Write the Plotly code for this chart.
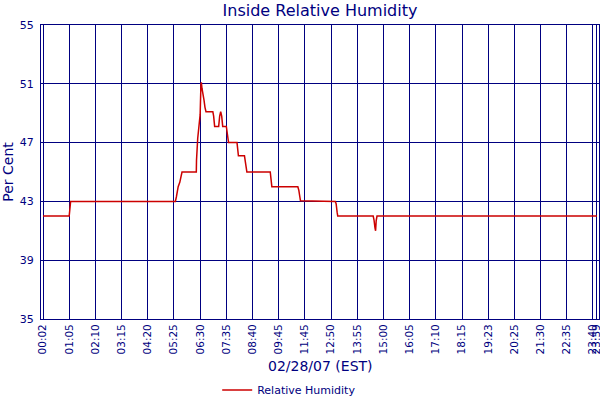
import plotly.graph_objects as go

# readings (sample index along the day) where the humidity changes
reading_idx = [0, 13, 13.7,
               65.7, 66.2, 66.6, 67.1, 67.9, 68.7, 69.0,
               76.1, 76.2, 76.8, 77.3, 78.0, 78.4, 78.6, 78.9, 79.4, 79.9, 80.4, 80.9,
               84.3, 84.7, 85.2, 87.2, 87.7, 88.2, 88.7, 89.2,
               91.0, 91.3, 91.8, 92.1,
               96.3, 96.6, 97.0,
               100.0, 100.4, 100.9, 101.2,
               112.8, 113.1, 113.6,
               126.5, 127.0, 127.5, 127.8,
               145.1, 145.5, 146.0, 146.3,
               163.9, 164.3, 164.8, 165.1, 165.4, 165.8,
               275]
humidity = [42, 42, 43,
            43, 43.3, 43.75, 44.0, 44.3, 44.8, 45.0,
            45, 45.8, 47.3, 48.0, 48.9, 51.0, 51.1, 50.7, 50.4, 49.9, 49.4, 49.1,
            49.1, 48.8, 48.1, 48.1, 48.8, 49.1, 48.8, 48.1,
            48.1, 47.7, 47.2, 47.0,
            47.0, 46.7, 46.1,
            46.1, 45.8, 45.35, 45.0,
            45.0, 44.4, 44.0,
            44.0, 43.75, 43.3, 43.05,
            43.0, 42.84, 42.27, 42.0,
            42.0, 41.75, 41.2, 41.0, 41.7, 42.0,
            42.0]

tick_idx = [0, 13, 26, 39, 52, 65, 78, 91, 104, 117, 130, 143, 156,
            169, 182, 195, 208, 221, 234, 247, 260, 273, 275]
tick_labels = ["00:02", "01:05", "02:10", "03:15", "04:20", "05:25", "06:30",
               "07:35", "08:40", "09:45", "11:45", "12:50", "13:55", "15:00",
               "16:05", "17:10", "18:15", "19:23", "20:25", "21:30", "22:35",
               "23:40", "23:59"]

NAVY = "#000080"
FONT = "DejaVu Sans"


def plot_humidity():
    fig = go.Figure()
    fig.add_trace(go.Scatter(x=reading_idx, y=humidity, mode="lines",
                             name="Relative Humidity",
                             line=dict(color="#cc0000", width=1.5)))

    # x-axis title as a plain annotation (standoff gets clamped otherwise)
    fig.add_annotation(text="02/28/07 (EST)", xref="paper", yref="paper",
                       x=0.5, y=-0.16, yanchor="middle", showarrow=False,
                       font=dict(size=14, color=NAVY))

    fig.update_layout(
        width=600, height=400,
        margin=dict(l=41, r=1, t=25, b=81),
        paper_bgcolor="white", plot_bgcolor="white",
        font=dict(family=FONT, color=NAVY),
        title=dict(text="Inside Relative Humidity", x=0.5, xref="paper",
                   y=0.9875, yanchor="top", font=dict(size=16, color=NAVY)),
        showlegend=True,
        # legend pinned to the page bottom so it doesn't push the margin
        legend=dict(orientation="h", xref="container", yref="container",
                    x=0.482, xanchor="center", y=0.025, yanchor="middle",
                    font=dict(size=11, color=NAVY), itemwidth=30),
        xaxis=dict(range=[-1, 276], tickmode="array", tickvals=tick_idx,
                   ticktext=tick_labels, tickangle=-90,
                   tickfont=dict(size=10.5, color=NAVY),
                   ticklabeloverflow="allow", automargin=False,
                   showgrid=True, gridcolor=NAVY, gridwidth=1,
                   showline=True, linecolor=NAVY, linewidth=1, mirror=True,
                   zeroline=False, ticks=""),
        yaxis=dict(range=[35, 55], tickmode="linear", tick0=35, dtick=4,
                   tickfont=dict(size=11, color=NAVY), automargin=False,
                   showgrid=True, gridcolor=NAVY, gridwidth=1,
                   showline=True, linecolor=NAVY, linewidth=1, mirror=True,
                   zeroline=False, ticks="", ticklabelstandoff=4,
                   title=dict(text="Per Cent", standoff=4,
                              font=dict(size=14, color=NAVY))),
    )

    # page body has a default 8px margin; drop it so the chart sits at 0,0
    fig.write_html("out.html", config={"displayModeBar": False},
                   post_script="document.body.style.margin='0';")


if __name__ == "__main__":
    plot_humidity()
